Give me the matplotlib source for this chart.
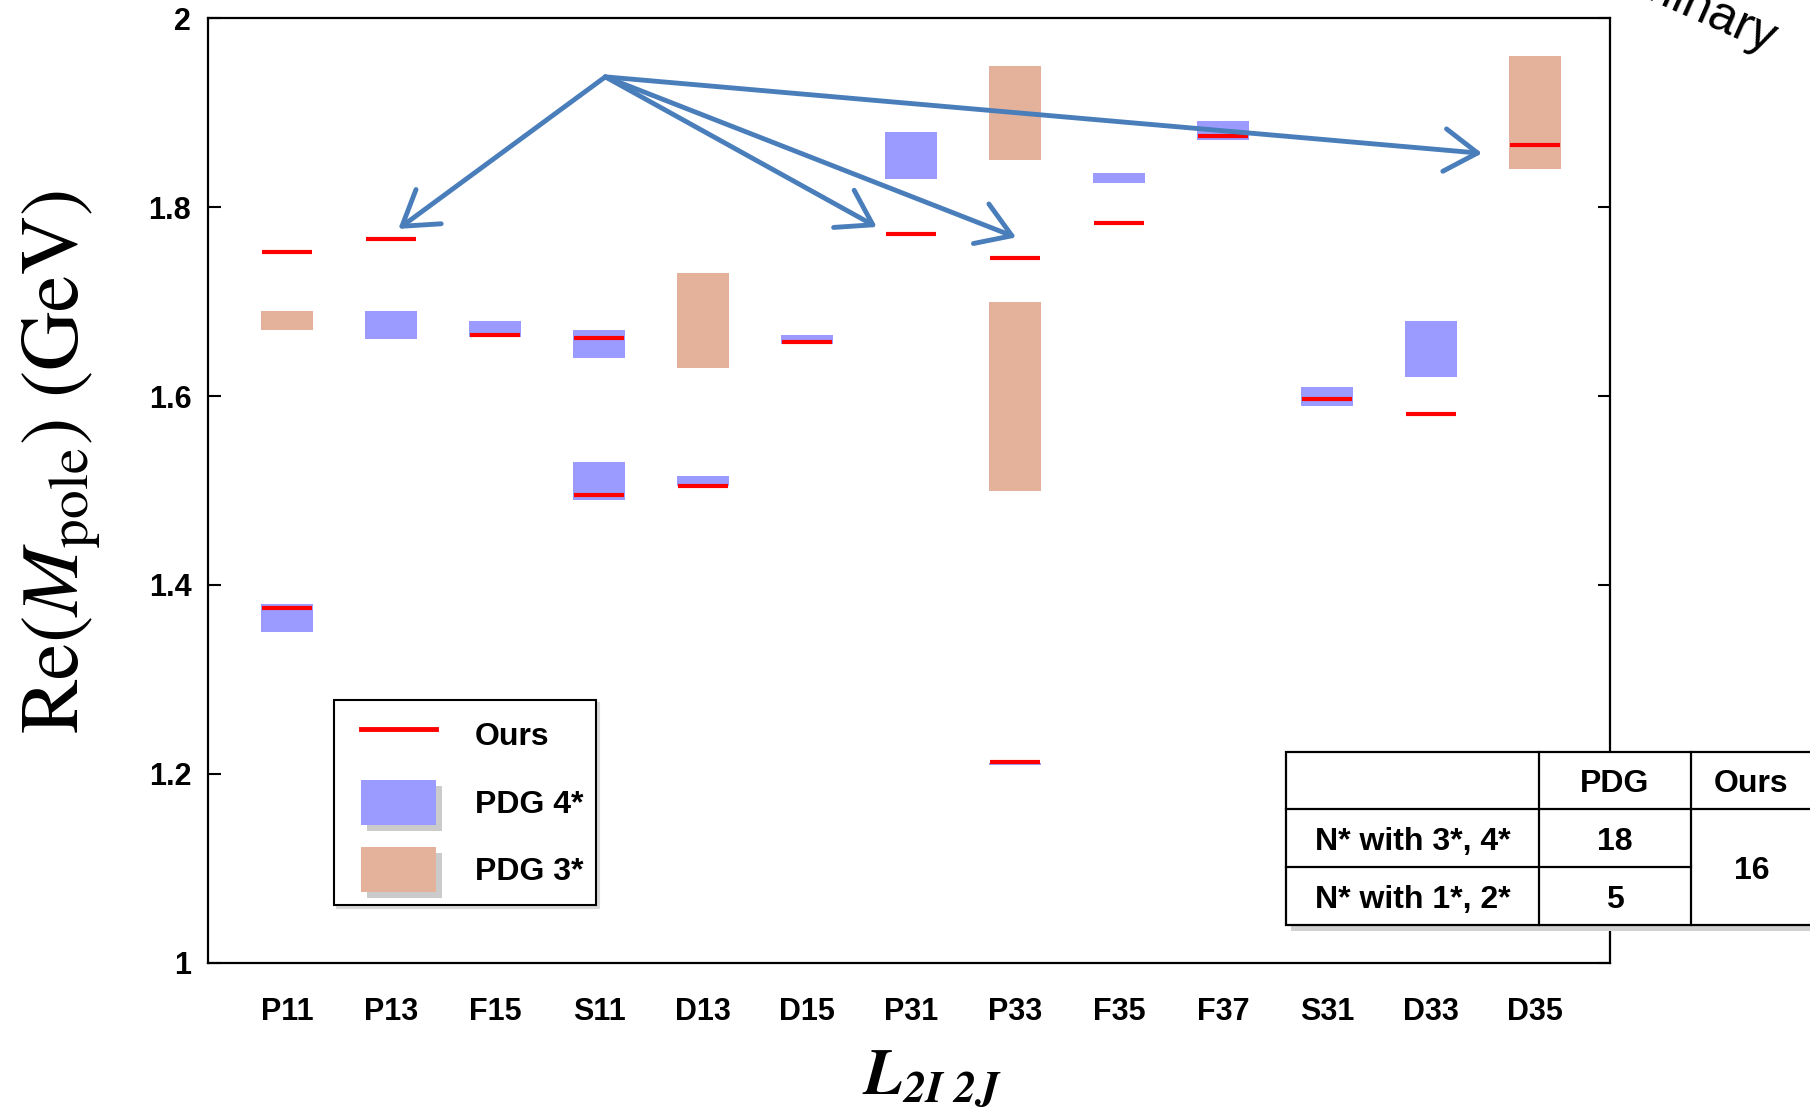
import matplotlib
matplotlib.use("Agg")
import matplotlib.pyplot as plt
from matplotlib.patches import Rectangle, Patch
from matplotlib.lines import Line2D
from matplotlib.legend_handler import HandlerLine2D, HandlerPatch
import matplotlib.patheffects as pe

# ---------------- data ----------------
categories = ['P11', 'P13', 'F15', 'S11', 'D13', 'D15', 'P31',
              'P33', 'F35', 'F37', 'S31', 'D33', 'D35']

# "Ours" pole positions (GeV)
ours_cat = ['P11', 'P11', 'P13', 'F15', 'S11', 'S11', 'D13', 'D15',
            'P31', 'P33', 'P33', 'F35', 'F37', 'S31', 'D33', 'D35']
ours_mass = [1.376, 1.753, 1.766, 1.665, 1.495, 1.662, 1.505, 1.657,
             1.772, 1.212, 1.746, 1.783, 1.875, 1.597, 1.581, 1.866]

# PDG 4* ranges
pdg4_cat = ['P11', 'P13', 'F15', 'S11', 'S11', 'D13', 'D15', 'P31',
            'P33', 'F35', 'F37', 'S31', 'D33']
pdg4_lo = [1.350, 1.660, 1.663, 1.640, 1.490, 1.505, 1.655, 1.830,
           1.209, 1.826, 1.871, 1.590, 1.620]
pdg4_hi = [1.380, 1.690, 1.680, 1.670, 1.530, 1.515, 1.665, 1.880,
           1.211, 1.836, 1.891, 1.610, 1.680]

# PDG 3* ranges
pdg3_cat = ['P11', 'D13', 'P33', 'P33', 'D35']
pdg3_lo = [1.670, 1.630, 1.500, 1.850, 1.840]
pdg3_hi = [1.690, 1.730, 1.700, 1.950, 1.960]

y_ticks = [1.0, 1.2, 1.4, 1.6, 1.8, 2.0]
y_ticklabels = ['1', '1.2', '1.4', '1.6', '1.8', '2']

# arrows (start point and targets, in data coordinates)
arrow_start = (4.06, 1.938)
arrow_tx = [2.07, 6.67, 8.01, 12.49]
arrow_ty = [1.777, 1.779, 1.768, 1.857]

# summary table
table_cols = ['PDG', 'Ours']
table_rows = ['N* with 3*, 4*', 'N* with 1*, 2*']
pdg_counts = [18, 5]
ours_count = 16

# ---------------- style ----------------
C_RED = '#ff0000'
C_BLUE = '#9b9bff'
C_BROWN = '#e4b29a'
C_ARROW = '#4a7ebb'
SANS = ['Liberation Sans', 'DejaVu Sans']

plt.rcParams['font.family'] = SANS
plt.rcParams['mathtext.fontset'] = 'stix'

W, H = 1810, 1109
fig = plt.figure(figsize=(W / 100, H / 100), dpi=100)
ax = fig.add_axes([208 / W, 1 - 962.7 / H, (1610 - 208) / W, (962.7 - 18.3) / H])

pos = {c: i + 1 for i, c in enumerate(categories)}
bw = 0.5

ax.bar([pos[c] for c in pdg3_cat], [h - l for l, h in zip(pdg3_lo, pdg3_hi)],
       bottom=pdg3_lo, width=bw, color=C_BROWN, zorder=2)
ax.bar([pos[c] for c in pdg4_cat], [h - l for l, h in zip(pdg4_lo, pdg4_hi)],
       bottom=pdg4_lo, width=bw, color=C_BLUE, zorder=2)
xs = [pos[c] for c in ours_cat]
ax.hlines(ours_mass, [x - 0.24 for x in xs], [x + 0.24 for x in xs],
          colors=C_RED, lw=3, zorder=3)

for tx, ty in zip(arrow_tx, arrow_ty):
    ax.annotate('', xy=(tx, ty), xytext=arrow_start,
                arrowprops=dict(arrowstyle='->,head_length=0.7,head_width=0.45',
                                color=C_ARROW, lw=3.5, mutation_scale=34,
                                shrinkA=0, shrinkB=0),
                zorder=5)

ax.set_xlim(0.24, 13.72)
ax.set_ylim(1.0, 2.0)
ax.set_xticks(range(1, len(categories) + 1))
ax.set_xticklabels(categories, fontsize=22, fontweight='bold')
ax.set_yticks(y_ticks)
ax.set_yticklabels(y_ticklabels, fontsize=22, fontweight='bold')
ax.tick_params(axis='x', length=0, pad=25)
ax.tick_params(axis='y', direction='in', length=9, width=1.5, pad=12,
               right=True)
for s in ax.spines.values():
    s.set_linewidth(1.6)

# axis labels
fig.text(62 / W, 1 - 462 / H, r'$\mathrm{Re}(M_{\mathrm{pole}})\ (\mathrm{GeV})$',
         rotation=90, ha='center', va='center', fontsize=59)
fig.text(932 / W, 1 - 1096 / H, r'$\mathbfit{L}_{\mathbfit{2I\ 2J}}$',
         ha='center', va='baseline', fontsize=46)

# legend
handles = [Line2D([], [], color=C_RED, lw=3.5),
           Patch(facecolor=C_BLUE, edgecolor='none'),
           Patch(facecolor=C_BROWN, edgecolor='none')]
xpad = 0.45
leg = ax.legend(handles, ['Ours', 'PDG 4*', 'PDG 3*'],
                loc='lower left', bbox_to_anchor=(0.090, 0.061),
                prop={'family': SANS, 'weight': 'bold', 'size': 23},
                frameon=True, fancybox=False, edgecolor='black',
                framealpha=1, borderpad=0.4, handlelength=2.35 + xpad,
                handleheight=1.79, handletextpad=1.2, labelspacing=0.7,
                borderaxespad=0,
                handler_map={Line2D: HandlerLine2D(xpad=xpad),
                             Patch: HandlerPatch(xpad=xpad)},
                shadow={'color': '0.85', 'alpha': 1.0})
leg.get_frame().set_linewidth(1.5)
for p in leg.get_patches():
    p.set_path_effects([pe.SimplePatchShadow(offset=(4, -4), shadow_rgbFace='0.6',
                                             alpha=0.5), pe.Normal()])

# table (figure pixel coordinates converted to fractions)
col_x = [1286, 1539, 1691, 1812]
row_y = [752, 809, 867, 925]
fx = lambda v: v / W
fy = lambda v: 1 - v / H
# shadow
fig.patches.append(Rectangle((fx(col_x[0] + 5), fy(row_y[3] + 6)),
                             fx(col_x[3] - col_x[0]), (row_y[3] - row_y[0]) / H,
                             transform=fig.transFigure, facecolor='0.82',
                             edgecolor='none', zorder=1))
fig.patches.append(Rectangle((fx(col_x[0]), fy(row_y[3])),
                             fx(col_x[3] - col_x[0]), (row_y[3] - row_y[0]) / H,
                             transform=fig.transFigure, facecolor='white',
                             edgecolor='black', lw=1.6, zorder=2))
lk = dict(transform=fig.transFigure, color='black', lw=1.6, zorder=3)
fig.lines.append(Line2D([fx(col_x[0]), fx(col_x[3])], [fy(row_y[1])] * 2, **lk))
fig.lines.append(Line2D([fx(col_x[0]), fx(col_x[2])], [fy(row_y[2])] * 2, **lk))
fig.lines.append(Line2D([fx(col_x[1])] * 2, [fy(row_y[0]), fy(row_y[3])], **lk))
fig.lines.append(Line2D([fx(col_x[2])] * 2, [fy(row_y[0]), fy(row_y[3])], **lk))
tk = dict(ha='center', va='center', fontsize=23, fontweight='bold', zorder=4)
dy = 4
for j, name in enumerate(table_cols):
    fig.text(fx((col_x[j + 1] + col_x[j + 2]) / 2), fy((row_y[0] + row_y[1]) / 2 + dy), name, **tk)
for i, name in enumerate(table_rows):
    yc = fy((row_y[i + 1] + row_y[i + 2]) / 2 + dy)
    fig.text(fx((col_x[0] + col_x[1]) / 2), yc, name, **tk)
    fig.text(fx((col_x[1] + col_x[2]) / 2), yc, str(pdg_counts[i]), **tk)
fig.text(fx((col_x[2] + col_x[3]) / 2), fy((row_y[1] + row_y[3]) / 2 + dy), str(ours_count), **tk)

# "Preliminary" watermark, mostly cut off at the top right
fig.text(1768 / W, 1 - 55 / H, 'Preliminary', rotation=-24, rotation_mode='anchor',
         ha='right', va='baseline', fontsize=36, family=SANS)

fig.savefig('out.png', dpi=100)
